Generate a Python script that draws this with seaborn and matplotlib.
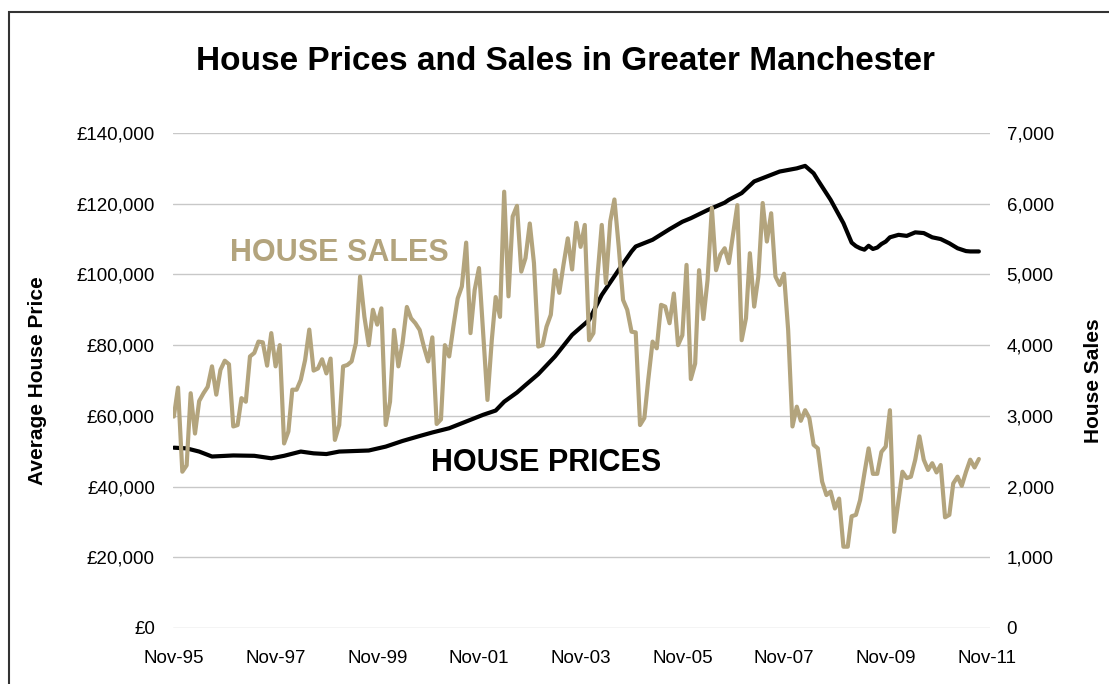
"""
House prices and sales in Greater Manchester, Nov-95 to Nov-11.
Price on the left axis, monthly sales on the right axis.
"""

import matplotlib.pyplot as plt
import matplotlib.dates as mdates
import matplotlib.ticker as mticker
from matplotlib.patches import Rectangle
import pandas as pd
import seaborn as sns

# =============================
# DATA
# =============================

START = "1995-11-01"

# monthly sales, Nov-95 onwards
house_sales = [
    2990, 3400, 2210, 2300, 3320, 2750, 3210, 3320, 3410, 3700,
    3300, 3650, 3780, 3730, 2850, 2870, 3250, 3200, 3840, 3890,
    4050, 4040, 3710, 4170, 3700, 4000, 2610, 2780, 3370, 3370,
    3510, 3790, 4220, 3640, 3670, 3800, 3600, 3810, 2660, 2870,
    3700, 3720, 3770, 4030, 4970, 4400, 4000, 4500, 4290, 4520,
    2870, 3200, 4215, 3700, 4030, 4540, 4380, 4310, 4215, 3980,
    3770, 4110, 2885, 2950, 4000, 3840, 4260, 4660, 4830, 5450,
    4170, 4780, 5090, 4170, 3225, 4070, 4680, 4400, 6170, 4690,
    5820, 5970, 5040, 5230, 5720, 5160, 3980, 4000, 4260, 4430,
    5060, 4740, 5135, 5510, 5070, 5730, 5390, 5700, 4070, 4170,
    4970, 5700, 4875, 5750, 6060, 5390, 4640, 4500, 4190, 4180,
    2870, 2970, 3510, 4050, 3955, 4570, 4545, 4310, 4730, 4000,
    4140, 5135, 3520, 3740, 5060, 4370, 4920, 5940, 5060, 5280,
    5370, 5160, 5580, 5980, 4070, 4380, 5300, 4545, 4970, 6010,
    5465, 5865, 4970, 4850, 5010, 4215, 2850, 3130, 2930, 3080,
    2970, 2590, 2540, 2070, 1880, 1930, 1690, 1830, 1150, 1150,
    1580, 1600, 1810, 2190, 2540, 2180, 2180, 2490, 2565, 3080,
    1360, 1810, 2210, 2120, 2140, 2380, 2710, 2380, 2235, 2330,
    2200, 2305, 1565, 1600, 2045, 2140, 2010, 2210, 2380, 2270,
    2390,
]

# average price, read at these months after Nov-95
price_months = [
    0, 3, 6, 9, 14, 19, 23, 26, 30, 33, 36, 39,
    46, 50, 54, 58, 61, 65, 69, 73, 76, 78, 81,
    83, 86, 90, 94, 98, 101, 105, 108, 109, 113, 117, 120,
    122, 126, 130, 131, 134, 137, 143, 147, 149, 151, 152, 155, 158,
    160, 161, 162, 163, 164, 165, 166, 167, 168, 169, 171, 173, 175,
    177, 179, 181, 183, 185, 187, 188, 190,
]
avg_price = [
    51000, 50800, 49900, 48500, 48800, 48700, 48000, 48700, 49900, 49400, 49200, 49900,
    50200, 51300, 52900, 54300, 55300, 56500, 58400, 60300, 61500, 64000, 66600,
    68700, 71800, 76800, 82900, 87100, 94200, 101300, 106500, 107900, 109800, 112800, 114900,
    115900, 118200, 120300, 121100, 123000, 126300, 129100, 130000, 130700, 128600, 126700, 121100, 114500,
    109000, 108000, 107400, 107000, 108100, 107200, 107600, 108600, 109300, 110500, 111200, 110900, 111900,
    111700, 110500, 110000, 108800, 107400, 106600, 106500, 106500,
]

sales_dates = pd.date_range(START, periods=len(house_sales), freq="MS")
sales_df = pd.DataFrame({"date": sales_dates, "sales": house_sales})
price_df = pd.DataFrame({
    "date": [sales_dates[m] for m in price_months],
    "price": avg_price,
})

TAN = "#B3A47D"
FONT = ["Liberation Sans", "DejaVu Sans"]

# =============================
# PLOT
# =============================

sns.set_theme(style="white")
plt.rcParams["font.family"] = FONT
plt.rcParams["text.color"] = "black"
plt.rcParams["axes.labelcolor"] = "black"

fig = plt.figure(figsize=(11.09, 6.84), dpi=100)
ax = fig.add_axes([173 / 1109, 1 - 628 / 684, (990 - 173) / 1109, (628 - 133) / 684])

sns.lineplot(data=price_df, x="date", y="price", ax=ax, color="black",
             linewidth=3.0, solid_joinstyle="round")

ax2 = ax.twinx()
sns.lineplot(data=sales_df, x="date", y="sales", ax=ax2, color=TAN,
             linewidth=3.0, solid_joinstyle="round")

# axes
ax.set_ylim(0, 140000)
ax2.set_ylim(0, 7000)
ax.yaxis.set_major_locator(mticker.MultipleLocator(20000))
ax2.yaxis.set_major_locator(mticker.MultipleLocator(1000))
ax.yaxis.set_major_formatter(mticker.FuncFormatter(lambda v, p: f"£{v:,.0f}"))
ax2.yaxis.set_major_formatter(mticker.FuncFormatter(lambda v, p: f"{v:,.0f}"))

ax.set_xlim(pd.Timestamp("1995-10-26"), pd.Timestamp("2011-11-20"))
ax.set_xticks(pd.date_range("1995-11-01", "2011-11-01", freq="24MS"))
ax.xaxis.set_major_formatter(mdates.DateFormatter("%b-%y"))

ax.grid(axis="y", color="#C8C8C8", linewidth=1.0)
ax.grid(axis="x", visible=False)
ax2.grid(False)
for a in (ax, ax2):
    for s in a.spines.values():
        s.set_visible(False)
    a.tick_params(length=0, labelsize=13.5, colors="black")
ax.tick_params(axis="y", pad=13)
ax.tick_params(axis="x", pad=16)
ax2.tick_params(axis="y", pad=12)

ax.set_xlabel("")
ax.set_ylabel("Average House Price", fontsize=15, fontweight="bold", labelpad=21)
ax2.set_ylabel("House Sales", fontsize=15, fontweight="bold", labelpad=22)

# labels on the chart
ax2.text(sales_dates[39], 5304, "HOUSE SALES", color=TAN, fontsize=22,
         fontweight="bold", ha="center", va="center")
ax.text(sales_dates[88], 46700, "HOUSE PRICES", color="black", fontsize=22,
        fontweight="bold", ha="center", va="center")

fig.text(565 / 1109, 1 - 61 / 684, "House Prices and Sales in Greater Manchester",
         fontsize=24, fontweight="bold", ha="center", va="center")

# outer frame
fig.patches.append(Rectangle((9 / 1109, -0.1), 1.2, 1.1 - 12 / 684,
                             transform=fig.transFigure, fill=False,
                             edgecolor="#333333", linewidth=1.5))

fig.savefig("out.png", dpi=100)
